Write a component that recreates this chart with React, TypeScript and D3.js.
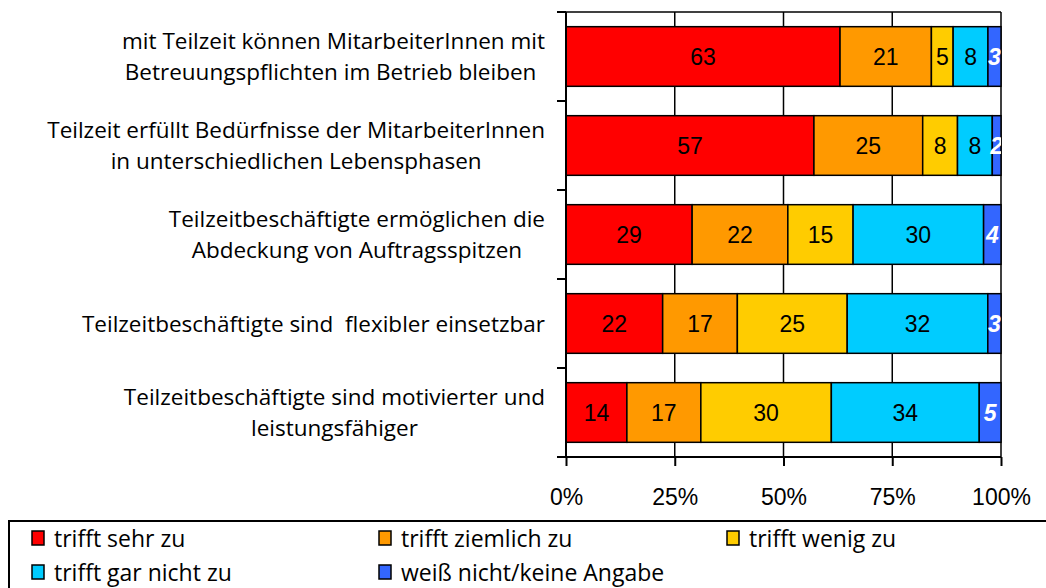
import React, { useEffect, useRef } from 'react';
import * as d3 from 'd3';

const categories = [
  ['mit Teilzeit können MitarbeiterInnen mit', 'Betreuungspflichten im Betrieb bleiben '],
  ['Teilzeit erfüllt Bedürfnisse der MitarbeiterInnen', 'in unterschiedlichen Lebensphasen'],
  ['Teilzeitbeschäftigte ermöglichen die', 'Abdeckung von Auftragsspitzen'],
  ['Teilzeitbeschäftigte sind  flexibler einsetzbar'],
  ['Teilzeitbeschäftigte sind motivierter und', 'leistungsfähiger'],
];

const seriesNames = ['trifft sehr zu', 'trifft ziemlich zu', 'trifft wenig zu', 'trifft gar nicht zu', 'weiß nicht/keine Angabe'];

const sehrZu = [63, 57, 29, 22, 14];
const ziemlichZu = [21, 25, 22, 17, 17];
const wenigZu = [5, 8, 15, 25, 30];
const garNichtZu = [8, 8, 30, 32, 34];
const keineAngabe = [3, 2, 4, 3, 5];

const tickValues = [0, 0.25, 0.5, 0.75, 1];

const COLORS = ['#FF0000', '#FF9900', '#FFCC00', '#00CCFF', '#3366FF'];

export default function App() {
  const svgRef = useRef<SVGSVGElement>(null);

  useEffect(() => {
    if (!svgRef.current) return;
    document.body.style.margin = '0';

    const width = 1046;
    const plot = { left: 566, right: 1001, top: 12, bottom: 457 };
    const labelFont = "'Open Sans', sans-serif";
    const numFont = "'Liberation Sans', Arial, sans-serif";

    const svg = d3.select(svgRef.current);
    svg.selectAll('*').remove();

    const keys = ['a', 'b', 'c', 'd', 'e'];
    const series = [sehrZu, ziemlichZu, wenigZu, garNichtZu, keineAngabe];
    const rows = categories.map((_, i) => {
      const r: any = { idx: i };
      keys.forEach((k, j) => (r[k] = series[j][i]));
      return r;
    });

    // 100% stacked: each row normalised to its own sum
    const stacked = d3.stack<any>().keys(keys).offset(d3.stackOffsetExpand)(rows);

    const x = d3.scaleLinear().domain([0, 1]).range([plot.left, plot.right]);
    const y = d3.scaleBand<number>()
      .domain(categories.map((_, i) => i))
      .range([plot.top, plot.bottom])
      .paddingInner(0.33)
      .paddingOuter(0.165);

    svg.append('defs').append('clipPath').attr('id', 'plotClip')
      .append('rect')
      .attr('x', plot.left).attr('y', plot.top)
      .attr('width', plot.right - plot.left).attr('height', plot.bottom - plot.top);

    // grid lines
    svg.append('g')
      .selectAll('line')
      .data(tickValues.slice(1))
      .enter()
      .append('line')
      .attr('x1', d => x(d)).attr('x2', d => x(d))
      .attr('y1', plot.top).attr('y2', plot.bottom)
      .attr('stroke', '#000').attr('stroke-width', 1.5);

    svg.append('line')
      .attr('x1', plot.left).attr('x2', plot.right)
      .attr('y1', plot.top).attr('y2', plot.top)
      .attr('stroke', '#000').attr('stroke-width', 1.5);

    // bars
    const groups = svg.append('g')
      .selectAll('g')
      .data(stacked)
      .enter()
      .append('g')
      .attr('fill', (_, i) => COLORS[i]);

    groups.selectAll('rect')
      .data(d => d)
      .enter()
      .append('rect')
      .attr('x', d => x(d[0]))
      .attr('y', d => y(d.data.idx)!)
      .attr('width', d => x(d[1]) - x(d[0]))
      .attr('height', y.bandwidth())
      .attr('stroke', '#000')
      .attr('stroke-width', 1.5);

    // value labels
    const labels = svg.append('g').attr('clip-path', 'url(#plotClip)');
    stacked.forEach((s, si) => {
      labels.selectAll(`.lbl${si}`)
        .data(s)
        .enter()
        .append('text')
        .attr('x', d => (x(d[0]) + x(d[1])) / 2)
        .attr('y', d => y(d.data.idx)! + y.bandwidth() / 2)
        .attr('dy', '0.36em')
        .attr('text-anchor', 'middle')
        .text(d => d.data[keys[si]])
        .style('font-family', numFont)
        .style('font-size', '23px')
        .style('fill', si === 4 ? '#fff' : '#000')
        .style('font-weight', si === 4 ? 'bold' : 'normal')
        .style('font-style', si === 4 ? 'italic' : 'normal');
    });

    // y axis
    const yAxis = svg.append('g');
    yAxis.append('line')
      .attr('x1', plot.left).attr('x2', plot.left)
      .attr('y1', plot.top).attr('y2', plot.bottom)
      .attr('stroke', '#000').attr('stroke-width', 2);
    const step = y.step();
    yAxis.selectAll('.ytick')
      .data(d3.range(categories.length + 1))
      .enter()
      .append('line')
      .attr('x1', plot.left - 9).attr('x2', plot.left)
      .attr('y1', i => plot.top + i * step).attr('y2', i => plot.top + i * step)
      .attr('stroke', '#000').attr('stroke-width', 2);

    // x axis
    const xAxis = svg.append('g')
      .attr('transform', `translate(0,${plot.bottom})`)
      .call(d3.axisBottom(x).tickValues(tickValues).tickSize(9).tickSizeOuter(0).tickFormat(d => `${Math.round(+d * 100)}%`));
    xAxis.select('.domain').attr('stroke', '#000').attr('stroke-width', 2)
      .attr('d', `M${plot.left - 9},0H${plot.right}`);
    xAxis.selectAll('.tick line').attr('stroke', '#000').attr('stroke-width', 2);
    xAxis.selectAll('text')
      .attr('y', 48)
      .attr('dy', 0)
      .style('font-family', numFont)
      .style('font-size', '23px')
      .style('fill', '#000');

    // category labels (centered block, right edge at 545)
    const catG = svg.append('g');
    categories.forEach((lines, i) => {
      const cy = y(i)! + y.bandwidth() / 2;
      const lh = 31;
      const t = catG.append('text')
        .style('font-family', labelFont)
        .style('font-size', '22.5px')
        .style('fill', '#000')
        .attr('text-anchor', 'middle');
      lines.forEach((ln, li) => {
        t.append('tspan')
          .attr('x', 0)
          .attr('y', cy + (li - (lines.length - 1) / 2) * lh)
          .attr('dy', '0.36em')
          .style('white-space', 'pre')
          .text(ln);
      });
      const w = (t.node() as SVGTextElement).getBBox().width;
      t.selectAll('tspan').attr('x', 545 - w / 2);
    });

    // legend
    const legend = svg.append('g');
    legend.append('rect')
      .attr('x', 9).attr('y', 521)
      .attr('width', width + 20).attr('height', 100)
      .attr('fill', 'none').attr('stroke', '#000').attr('stroke-width', 2);
    const colX = [32, 379, 727];
    seriesNames.forEach((name, i) => {
      const cx = colX[i % 3];
      const ry = i < 3 ? 531 : 565;
      legend.append('rect')
        .attr('x', cx).attr('y', ry)
        .attr('width', 12).attr('height', 14)
        .attr('fill', COLORS[i]).attr('stroke', '#000').attr('stroke-width', 1.5);
      legend.append('text')
        .attr('x', cx + 22).attr('y', ry + 16)
        .text(name)
        .style('font-family', labelFont)
        .style('font-size', '23px')
        .style('fill', '#000');
    });
  }, []);

  return (
    <svg ref={svgRef} width={1046} height={588} viewBox="0 0 1046 588" style={{ display: 'block', background: '#fff' }} />
  );
}
